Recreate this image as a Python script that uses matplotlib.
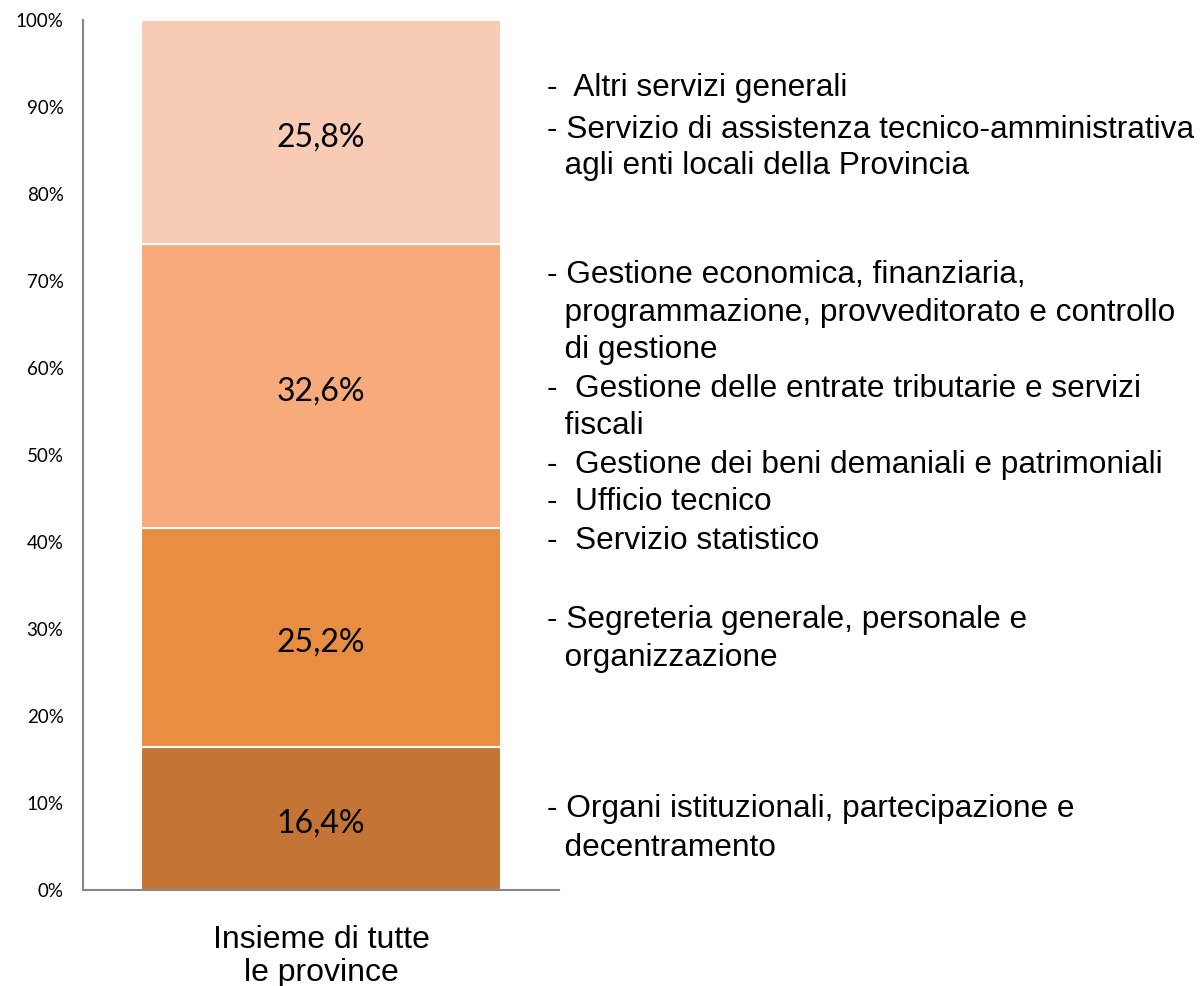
import matplotlib.pyplot as plt

# -------------------------------
# Data
# -------------------------------

category = "Insieme di tutte\nle province"
shares = [16.4, 25.2, 32.6, 25.8]
share_labels = ["16,4%", "25,2%", "32,6%", "25,8%"]
colors = ["#C47535", "#E88D42", "#F7AA7A", "#F8CBB4"]
y_ticks = [0, 10, 20, 30, 40, 50, 60, 70, 80, 90, 100]

# right-side descriptions: (text line, pixel y of line centre)
desc_lines = [
    "-  Altri servizi generali",
    "- Servizio di assistenza tecnico-amministrativa",
    "  agli enti locali della Provincia",
    "- Gestione economica, finanziaria,",
    "  programmazione, provveditorato e controllo",
    "  di gestione",
    "-  Gestione delle entrate tributarie e servizi",
    "  fiscali",
    "-  Gestione dei beni demaniali e patrimoniali",
    "-  Ufficio tecnico",
    "-  Servizio statistico",
    "- Segreteria generale, personale e",
    "  organizzazione",
    "- Organi istituzionali, partecipazione e",
    "  decentramento",
]
desc_y = [85, 127, 163, 272, 310, 347, 386, 423, 462, 499, 538, 617, 655, 806, 845]

# -------------------------------
# Figure
# -------------------------------

W, H = 1201, 986
fig = plt.figure(figsize=(W / 100, H / 100), dpi=100)
ax = fig.add_axes([83 / W, (H - 890) / H, (559 - 83) / W, (890 - 20) / H])

bottom = 0
for val, lab, col in zip(shares, share_labels, colors):
    ax.bar(0, val, width=0.756, bottom=bottom, color=col,
           edgecolor="white", linewidth=1.5)
    ax.text(0, bottom + val / 2 - 0.6, lab, ha="center", va="center",
            fontsize=23, family="Lato", color="black")
    bottom += val

ax.set_xlim(-0.5, 0.5)
ax.set_ylim(0, 100)
ax.set_yticks(y_ticks)
ax.set_yticklabels([f"{t}%" for t in y_ticks], family="Lato", fontsize=13.5)
ax.set_xticks([0])
ax.set_xticklabels([category], family="Liberation Sans", fontsize=23,
                   linespacing=1.15)
ax.tick_params(axis="y", length=0, pad=14)
ax.tick_params(axis="x", length=0, pad=25)

for s in ["top", "right"]:
    ax.spines[s].set_visible(False)
for s in ["left", "bottom"]:
    ax.spines[s].set_color("#868686")
    ax.spines[s].set_linewidth(1.5)

for line, y in zip(desc_lines, desc_y):
    fig.text(547 / W, (H - y - 3) / H, line, ha="left", va="center",
             family="Liberation Sans", fontsize=22.8, color="black")

plt.savefig("out.png", dpi=100)
